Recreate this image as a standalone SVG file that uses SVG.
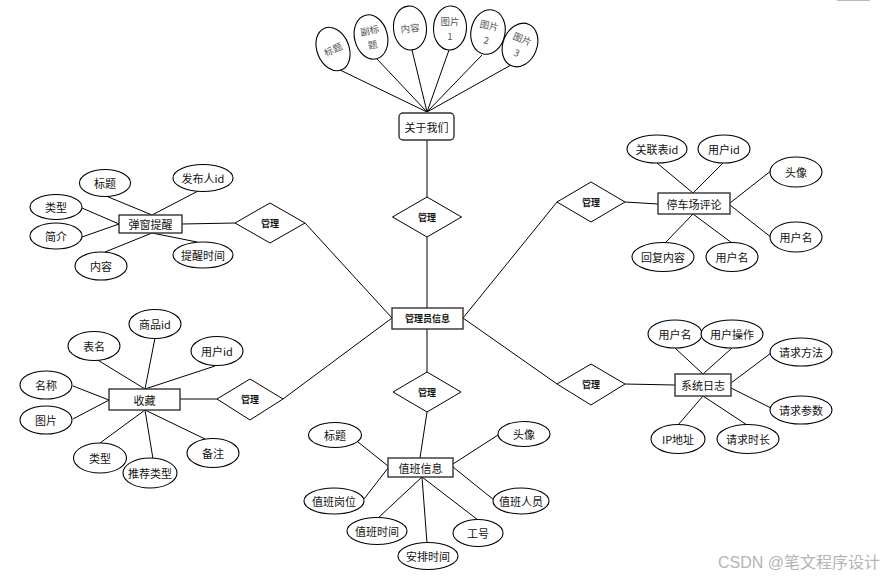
<svg xmlns="http://www.w3.org/2000/svg" width="885" height="577" viewBox="0 0 885 577">
<style>
.bg{fill:#fff}
.c line{stroke:#000;stroke-width:1}
.attr ellipse{fill:#fff;stroke:#000;stroke-width:1.1}
.ent rect{fill:#fff;stroke:#333;stroke-width:1.4}
.rel polygon{fill:#fff;stroke:#000;stroke-width:1}
text{font-family:"Noto Sans CJK SC","Liberation Sans",sans-serif;text-anchor:middle;dominant-baseline:central;fill:#111}
.t{font-size:11px}
.tb{font-size:9px;font-weight:bold}
.te{font-size:11px}
.tr{font-size:9.5px;fill:#555}
.wm{font-family:"Liberation Sans","Noto Sans CJK SC",sans-serif;font-size:16px;fill:#b4b4b4;text-anchor:start;dominant-baseline:auto}
</style>
<rect class="bg" x="0" y="0" width="885" height="577"/>
<line x1="837" y1="0.5" x2="870" y2="0.5" stroke="#bbb" stroke-width="1"/>

<g id="connectors" class="c">
<!-- about us -->
<line x1="340" y1="70" x2="427" y2="112"/>
<line x1="377" y1="59" x2="427" y2="112"/>
<line x1="412" y1="50" x2="427" y2="112"/>
<line x1="449" y1="50" x2="427" y2="112"/>
<line x1="482" y1="55" x2="427" y2="112"/>
<line x1="511" y1="65" x2="427" y2="112"/>
<line x1="427" y1="140" x2="427" y2="197"/>
<line x1="427" y1="237" x2="427" y2="308"/>
<!-- center to diamonds -->
<line x1="427" y1="329" x2="427" y2="372"/>
<line x1="427" y1="412" x2="420" y2="458"/>
<line x1="305" y1="223" x2="392" y2="318"/>
<line x1="283" y1="399" x2="392" y2="318"/>
<line x1="557" y1="202" x2="463" y2="318"/>
<line x1="557" y1="384" x2="463" y2="318"/>
<!-- 弹窗提醒 -->
<line x1="106" y1="196" x2="152" y2="215"/>
<line x1="200" y1="190" x2="152" y2="215"/>
<line x1="82" y1="208" x2="119" y2="224"/>
<line x1="82" y1="237" x2="119" y2="224"/>
<line x1="105" y1="252" x2="152" y2="233"/>
<line x1="197" y1="242" x2="152" y2="233"/>
<line x1="182" y1="224" x2="235" y2="223"/>
<!-- 停车场评论 -->
<line x1="657" y1="163" x2="693" y2="193"/>
<line x1="723" y1="163" x2="693" y2="193"/>
<line x1="772" y1="170" x2="730" y2="203"/>
<line x1="772" y1="238" x2="730" y2="205"/>
<line x1="665" y1="243" x2="693" y2="214"/>
<line x1="732" y1="243" x2="693" y2="214"/>
<line x1="625" y1="202" x2="658" y2="204"/>
<!-- 收藏 -->
<line x1="96" y1="359" x2="145" y2="389"/>
<line x1="155" y1="338" x2="145" y2="389"/>
<line x1="215" y1="366" x2="145" y2="389"/>
<line x1="73" y1="386" x2="109" y2="400"/>
<line x1="73" y1="419" x2="109" y2="400"/>
<line x1="100" y1="443" x2="145" y2="410"/>
<line x1="153" y1="459" x2="145" y2="410"/>
<line x1="205" y1="439" x2="145" y2="410"/>
<line x1="180" y1="399" x2="217" y2="399"/>
<!-- 系统日志 -->
<line x1="675" y1="348" x2="703" y2="374"/>
<line x1="732" y1="348" x2="703" y2="374"/>
<line x1="771" y1="353" x2="731" y2="383"/>
<line x1="771" y1="408" x2="731" y2="388"/>
<line x1="678" y1="425" x2="703" y2="396"/>
<line x1="747" y1="425" x2="703" y2="396"/>
<line x1="625" y1="384" x2="675" y2="385"/>
<!-- 值班信息 -->
<line x1="358" y1="442" x2="388" y2="466"/>
<line x1="364" y1="499" x2="388" y2="468"/>
<line x1="498" y1="435" x2="453" y2="464"/>
<line x1="494" y1="500" x2="453" y2="467"/>
<line x1="378" y1="518" x2="422" y2="477"/>
<line x1="427" y1="543" x2="422" y2="477"/>
<line x1="478" y1="520" x2="422" y2="477"/>
</g>

<!-- about us attributes -->
<g id="about-biaoti" class="attr"><ellipse cx="333" cy="49" rx="16" ry="22.5" transform="rotate(-22 333 49)"/><text class="tr" x="333" y="49" transform="rotate(-25 333 49)">标题</text></g>
<g id="about-fubiaoti" class="attr"><ellipse cx="371" cy="37" rx="16.5" ry="22.5" transform="rotate(-14 371 37)"/><text class="tr" x="371" y="30" transform="rotate(-12 371 37)">副标</text><text class="tr" x="371" y="44.5" transform="rotate(-12 371 37)">题</text></g>
<g id="about-neirong" class="attr"><ellipse cx="410" cy="28" rx="16.5" ry="22" transform="rotate(-5 410 28)"/><text class="tr" x="410" y="28" transform="rotate(-6 410 28)">内容</text></g>
<g id="about-tupian1" class="attr"><ellipse cx="450" cy="28" rx="16.5" ry="22" transform="rotate(3 450 28)"/><text class="tr" x="450" y="21">图片</text><text class="tr" x="450" y="36">1</text></g>
<g id="about-tupian2" class="attr"><ellipse cx="488" cy="32" rx="17" ry="22.5" transform="rotate(12 488 32)"/><text class="tr" x="488" y="25" transform="rotate(12 488 32)">图片</text><text class="tr" x="488" y="40" transform="rotate(12 488 32)">2</text></g>
<g id="about-tupian3" class="attr"><ellipse cx="520" cy="45" rx="17" ry="22.5" transform="rotate(22 520 45)"/><text class="tr" x="520" y="38" transform="rotate(22 520 45)">图片</text><text class="tr" x="520" y="53" transform="rotate(22 520 45)">3</text></g>
<g id="about-us" class="ent"><rect x="399" y="113" width="55" height="27" rx="4"/><text class="te" x="426.5" y="126.5">关于我们</text></g>

<!-- relationship diamonds -->
<g id="rel-about" class="rel"><polygon points="392.5,217 427,197 461.5,217 427,237"/><text class="tb" x="427" y="217">管理</text></g>
<g id="rel-duty" class="rel"><polygon points="393,392 427,372 461,392 427,412"/><text class="tb" x="427" y="392">管理</text></g>
<g id="rel-popup" class="rel"><polygon points="235,223 270,203 305,223 270,243"/><text class="tb" x="270" y="223">管理</text></g>
<g id="rel-comment" class="rel"><polygon points="557,202 591,182 625,202 591,222"/><text class="tb" x="591" y="202">管理</text></g>
<g id="rel-fav" class="rel"><polygon points="217,399 250,379 283,399 250,420"/><text class="tb" x="250" y="399">管理</text></g>
<g id="rel-log" class="rel"><polygon points="557,384 591,364 625,384 591,405"/><text class="tb" x="591" y="384">管理</text></g>

<!-- admin -->
<g id="admin" class="ent"><rect x="392" y="308" width="71" height="21"/><text class="tb" x="427.5" y="318.5">管理员信息</text></g>

<!-- 弹窗提醒 -->
<g id="popup" class="ent"><rect x="119" y="215" width="63" height="18"/><text class="te" x="150.5" y="224">弹窗提醒</text></g>
<g id="popup-biaoti" class="attr"><ellipse cx="105" cy="183" rx="25.5" ry="13.5"/><text class="t" x="105" y="183">标题</text></g>
<g id="popup-fabuid" class="attr"><ellipse cx="203" cy="178" rx="30" ry="13.5"/><text class="t" x="203" y="178">发布人id</text></g>
<g id="popup-leixing" class="attr"><ellipse cx="56" cy="207" rx="26" ry="12.5"/><text class="t" x="56" y="207">类型</text></g>
<g id="popup-jianjie" class="attr"><ellipse cx="56" cy="236" rx="26" ry="13"/><text class="t" x="56" y="236">简介</text></g>
<g id="popup-neirong" class="attr"><ellipse cx="101" cy="266" rx="26" ry="14"/><text class="t" x="101" y="266">内容</text></g>
<g id="popup-tixingshijian" class="attr"><ellipse cx="203" cy="255" rx="30" ry="13"/><text class="t" x="203" y="255">提醒时间</text></g>

<!-- 停车场评论 -->
<g id="comment" class="ent"><rect x="658" y="193" width="72" height="21"/><text class="te" x="694" y="203.5">停车场评论</text></g>
<g id="comment-glbid" class="attr"><ellipse cx="657" cy="149" rx="30" ry="14"/><text class="t" x="657" y="149">关联表id</text></g>
<g id="comment-yhid" class="attr"><ellipse cx="724" cy="149" rx="26" ry="14"/><text class="t" x="724" y="149">用户id</text></g>
<g id="comment-touxiang" class="attr"><ellipse cx="796" cy="172" rx="26" ry="15"/><text class="t" x="796" y="172">头像</text></g>
<g id="comment-yhm1" class="attr"><ellipse cx="796" cy="237" rx="26" ry="15"/><text class="t" x="796" y="237">用户名</text></g>
<g id="comment-hfnr" class="attr"><ellipse cx="663" cy="257" rx="31" ry="14.5"/><text class="t" x="663" y="257">回复内容</text></g>
<g id="comment-yhm2" class="attr"><ellipse cx="732" cy="257" rx="26" ry="14.5"/><text class="t" x="732" y="257">用户名</text></g>

<!-- 收藏 -->
<g id="fav" class="ent"><rect x="109" y="389" width="71" height="21"/><text class="te" x="144.5" y="399.5">收藏</text></g>
<g id="fav-spid" class="attr"><ellipse cx="155" cy="324" rx="26" ry="14.5"/><text class="t" x="155" y="324">商品id</text></g>
<g id="fav-biaoming" class="attr"><ellipse cx="94" cy="346" rx="26" ry="14.5"/><text class="t" x="94" y="346">表名</text></g>
<g id="fav-yhid" class="attr"><ellipse cx="217" cy="351" rx="26" ry="14.5"/><text class="t" x="217" y="351">用户id</text></g>
<g id="fav-mingcheng" class="attr"><ellipse cx="46" cy="385" rx="26" ry="14"/><text class="t" x="46" y="385">名称</text></g>
<g id="fav-tupian" class="attr"><ellipse cx="46" cy="420" rx="26" ry="14"/><text class="t" x="46" y="420">图片</text></g>
<g id="fav-leixing" class="attr"><ellipse cx="100" cy="458" rx="26.5" ry="15"/><text class="t" x="100" y="458">类型</text></g>
<g id="fav-tjlx" class="attr"><ellipse cx="150" cy="473" rx="27" ry="15"/><text class="t" x="150" y="473">推荐类型</text></g>
<g id="fav-beizhu" class="attr"><ellipse cx="213" cy="453" rx="26" ry="14.5"/><text class="t" x="213" y="453">备注</text></g>

<!-- 系统日志 -->
<g id="log" class="ent"><rect x="675" y="374" width="56" height="22"/><text class="te" x="703" y="385">系统日志</text></g>
<g id="log-yhm" class="attr"><ellipse cx="675" cy="334" rx="27" ry="14"/><text class="t" x="675" y="334">用户名</text></g>
<g id="log-yhcz" class="attr"><ellipse cx="732" cy="334" rx="31" ry="14"/><text class="t" x="732" y="334">用户操作</text></g>
<g id="log-qqff" class="attr"><ellipse cx="801" cy="352" rx="31" ry="14"/><text class="t" x="801" y="352">请求方法</text></g>
<g id="log-qqcs" class="attr"><ellipse cx="801" cy="410" rx="31" ry="14"/><text class="t" x="801" y="410">请求参数</text></g>
<g id="log-ip" class="attr"><ellipse cx="678" cy="439" rx="27" ry="14.5"/><text class="t" x="678" y="439">IP地址</text></g>
<g id="log-qqsc" class="attr"><ellipse cx="748" cy="439" rx="31" ry="14.5"/><text class="t" x="748" y="439">请求时长</text></g>

<!-- 值班信息 -->
<g id="duty" class="ent"><rect x="388" y="458" width="65" height="19"/><text class="te" x="420.5" y="467.5">值班信息</text></g>
<g id="duty-biaoti" class="attr"><ellipse cx="335" cy="435" rx="26.5" ry="12.5"/><text class="t" x="335" y="435">标题</text></g>
<g id="duty-touxiang" class="attr"><ellipse cx="524" cy="434" rx="26" ry="12.5"/><text class="t" x="524" y="434">头像</text></g>
<g id="duty-gangwei" class="attr"><ellipse cx="334" cy="501" rx="30" ry="13"/><text class="t" x="334" y="501">值班岗位</text></g>
<g id="duty-renyuan" class="attr"><ellipse cx="521" cy="501" rx="28" ry="13"/><text class="t" x="521" y="501">值班人员</text></g>
<g id="duty-shijian" class="attr"><ellipse cx="377" cy="531" rx="30" ry="13.5"/><text class="t" x="377" y="531">值班时间</text></g>
<g id="duty-gonghao" class="attr"><ellipse cx="478" cy="533" rx="25" ry="13.5"/><text class="t" x="478" y="533">工号</text></g>
<g id="duty-anpai" class="attr"><ellipse cx="428" cy="556" rx="30" ry="13.5"/><text class="t" x="428" y="556">安排时间</text></g>

<text class="wm" x="718" y="568">CSDN @笔文程序设计</text>
</svg>
